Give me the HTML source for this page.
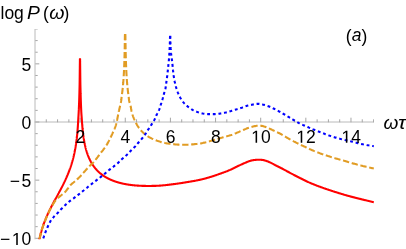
<!DOCTYPE html>
<html><head><meta charset="utf-8"><style>
html,body{margin:0;padding:0;background:#fff;}
svg{display:block;will-change:transform;opacity:0.999;}
text{font-family:"Liberation Sans",sans-serif;font-size:17.5px;fill:#000;}
</style></head><body>
<svg width="406" height="249" viewBox="0 0 406 249">
<rect width="406" height="249" fill="#fff"/>
<clipPath id="c"><rect x="34" y="28.96" width="339.95" height="210.24"/></clipPath>
<g stroke="#bababa" stroke-width="1" fill="none" clip-path="url(#c)">
<line x1="34.5" y1="122.0" x2="374.05" y2="122.0"/>
<line x1="35.0" y1="28.46" x2="35.0" y2="240.30"/>
</g>
<g stroke="#a6a6a6" stroke-width="1" fill="none" clip-path="url(#c)">
<line x1="46.28" y1="122.3" x2="46.28" y2="119.30"/>
<line x1="57.57" y1="122.3" x2="57.57" y2="119.30"/>
<line x1="68.86" y1="122.3" x2="68.86" y2="119.30"/>
<line x1="80.14" y1="122.3" x2="80.14" y2="117.70"/>
<line x1="91.42" y1="122.3" x2="91.42" y2="119.30"/>
<line x1="102.71" y1="122.3" x2="102.71" y2="119.30"/>
<line x1="114.0" y1="122.3" x2="114.0" y2="119.30"/>
<line x1="125.28" y1="122.3" x2="125.28" y2="117.70"/>
<line x1="136.56" y1="122.3" x2="136.56" y2="119.30"/>
<line x1="147.85" y1="122.3" x2="147.85" y2="119.30"/>
<line x1="159.13" y1="122.3" x2="159.13" y2="119.30"/>
<line x1="170.42" y1="122.3" x2="170.42" y2="117.70"/>
<line x1="181.71" y1="122.3" x2="181.71" y2="119.30"/>
<line x1="192.99" y1="122.3" x2="192.99" y2="119.30"/>
<line x1="204.28" y1="122.3" x2="204.28" y2="119.30"/>
<line x1="215.56" y1="122.3" x2="215.56" y2="117.70"/>
<line x1="226.84" y1="122.3" x2="226.84" y2="119.30"/>
<line x1="238.13" y1="122.3" x2="238.13" y2="119.30"/>
<line x1="249.41" y1="122.3" x2="249.41" y2="119.30"/>
<line x1="260.7" y1="122.3" x2="260.7" y2="117.70"/>
<line x1="271.99" y1="122.3" x2="271.99" y2="119.30"/>
<line x1="283.27" y1="122.3" x2="283.27" y2="119.30"/>
<line x1="294.56" y1="122.3" x2="294.56" y2="119.30"/>
<line x1="305.84" y1="122.3" x2="305.84" y2="117.70"/>
<line x1="317.12" y1="122.3" x2="317.12" y2="119.30"/>
<line x1="328.41" y1="122.3" x2="328.41" y2="119.30"/>
<line x1="339.69" y1="122.3" x2="339.69" y2="119.30"/>
<line x1="350.98" y1="122.3" x2="350.98" y2="117.70"/>
<line x1="362.26" y1="122.3" x2="362.26" y2="119.30"/>
<line x1="373.55" y1="122.3" x2="373.55" y2="119.30"/>
<line x1="35.3" y1="238.30" x2="39.30" y2="238.30"/>
<line x1="35.3" y1="226.67" x2="37.70" y2="226.67"/>
<line x1="35.3" y1="215.04" x2="37.70" y2="215.04"/>
<line x1="35.3" y1="203.41" x2="37.70" y2="203.41"/>
<line x1="35.3" y1="191.78" x2="37.70" y2="191.78"/>
<line x1="35.3" y1="180.15" x2="39.30" y2="180.15"/>
<line x1="35.3" y1="168.52" x2="37.70" y2="168.52"/>
<line x1="35.3" y1="156.89" x2="37.70" y2="156.89"/>
<line x1="35.3" y1="145.26" x2="37.70" y2="145.26"/>
<line x1="35.3" y1="133.63" x2="37.70" y2="133.63"/>
<line x1="35.3" y1="122.00" x2="39.30" y2="122.00"/>
<line x1="35.3" y1="110.37" x2="37.70" y2="110.37"/>
<line x1="35.3" y1="98.74" x2="37.70" y2="98.74"/>
<line x1="35.3" y1="87.11" x2="37.70" y2="87.11"/>
<line x1="35.3" y1="75.48" x2="37.70" y2="75.48"/>
<line x1="35.3" y1="63.85" x2="39.30" y2="63.85"/>
<line x1="35.3" y1="52.22" x2="37.70" y2="52.22"/>
<line x1="35.3" y1="40.59" x2="37.70" y2="40.59"/>
<line x1="35.3" y1="28.96" x2="37.70" y2="28.96"/>
</g>
<clipPath id="k"><rect x="30" y="20" width="343.9" height="219.15"/></clipPath>
<g fill="none" stroke-width="2.1" stroke-linejoin="bevel" clip-path="url(#k)">
<path d="M38.82,242.00 L39.02,241.09 L39.22,240.18 L39.43,239.27 L39.63,238.34 L39.67,238.14 L39.72,237.93 L39.76,237.72 L39.81,237.51 L39.86,237.30 L39.90,237.09 L39.95,236.88 L40.00,236.67 L40.05,236.46 L40.09,236.25 L40.14,236.05 L40.19,235.85 L40.24,235.64 L40.29,235.43 L40.34,235.22 L40.39,235.01 L40.44,234.81 L40.49,234.60 L40.54,234.40 L40.59,234.20 L40.64,233.99 L40.69,233.79 L40.74,233.58 L40.80,233.38 L40.85,233.18 L40.90,232.98 L40.95,232.78 L41.01,232.58 L41.06,232.38 L41.12,232.17 L41.17,231.97 L41.23,231.77 L41.28,231.57 L41.34,231.37 L41.39,231.18 L41.45,230.98 L41.50,230.78 L41.56,230.58 L41.62,230.38 L41.68,230.18 L41.73,229.98 L41.79,229.79 L41.85,229.60 L41.91,229.40 L41.97,229.20 L42.03,229.01 L42.09,228.81 L42.15,228.61 L42.21,228.42 L42.27,228.23 L42.33,228.03 L42.39,227.84 L42.45,227.65 L42.51,227.45 L42.57,227.26 L42.64,227.06 L42.70,226.87 L42.76,226.68 L42.82,226.49 L42.89,226.30 L42.95,226.11 L43.01,225.91 L43.08,225.72 L43.14,225.53 L43.21,225.34 L43.27,225.15 L43.34,224.96 L43.40,224.78 L43.47,224.58 L43.54,224.39 L43.61,224.20 L43.67,224.01 L43.74,223.82 L43.81,223.64 L43.88,223.45 L43.94,223.26 L44.01,223.08 L44.08,222.90 L44.15,222.72 L44.21,222.53 L44.28,222.35 L44.35,222.16 L44.42,221.98 L44.49,221.79 L44.56,221.61 L44.63,221.43 L44.70,221.25 L44.77,221.07 L44.85,220.88 L44.92,220.70 L44.99,220.51 L45.06,220.33 L45.14,220.15 L45.21,219.97 L45.28,219.78 L45.35,219.61 L45.43,219.42 L45.50,219.24 L45.58,219.05 L45.65,218.87 L45.73,218.69 L45.80,218.51 L45.88,218.33 L45.95,218.15 L46.03,217.97 L46.10,217.80 L46.18,217.62 L46.25,217.44 L46.33,217.26 L46.41,217.08 L46.48,216.90 L46.56,216.72 L46.64,216.55 L46.72,216.37 L46.79,216.19 L46.87,216.02 L46.95,215.84 L47.03,215.67 L47.10,215.49 L47.18,215.32 L47.26,215.14 L47.34,214.96 L47.42,214.79 L47.50,214.61 L47.58,214.44 L47.66,214.26 L47.74,214.09 L47.82,213.91 L47.90,213.74 L47.98,213.57 L48.06,213.40 L48.14,213.23 L48.22,213.05 L48.31,212.87 L48.39,212.70 L48.47,212.52 L48.55,212.35 L48.63,212.18 L48.72,212.00 L48.80,211.83 L48.88,211.66 L48.96,211.49 L49.05,211.32 L49.13,211.15 L49.21,210.98 L49.29,210.81 L49.38,210.64 L49.46,210.47 L49.54,210.30 L49.63,210.13 L49.71,209.96 L49.80,209.78 L49.88,209.61 L49.97,209.44 L50.05,209.27 L50.14,209.10 L50.22,208.93 L50.31,208.76 L50.39,208.60 L50.48,208.43 L50.56,208.26 L50.65,208.09 L50.73,207.93 L50.82,207.76 L50.90,207.59 L50.99,207.43 L51.07,207.26 L51.16,207.10 L51.24,206.93 L51.33,206.76 L51.42,206.59 L51.51,206.42 L51.59,206.25 L51.68,206.08 L51.77,205.91 L51.86,205.75 L51.94,205.58 L52.03,205.41 L52.12,205.24 L52.21,205.08 L52.29,204.91 L52.38,204.75 L52.47,204.58 L52.56,204.41 L52.64,204.25 L52.73,204.08 L52.82,203.92 L52.91,203.75 L52.99,203.59 L53.08,203.43 L53.17,203.26 L53.26,203.10 L53.34,202.93 L53.43,202.77 L53.52,202.61 L53.61,202.44 L53.69,202.28 L53.78,202.12 L53.87,201.96 L53.95,201.79 L54.04,201.63 L54.13,201.46 L54.22,201.29 L54.31,201.13 L54.40,200.96 L54.49,200.79 L54.58,200.63 L54.67,200.46 L54.76,200.29 L54.85,200.13 L54.94,199.96 L55.03,199.80 L55.12,199.63 L55.21,199.47 L55.30,199.30 L55.39,199.14 L55.48,198.97 L55.57,198.80 L55.66,198.64 L55.75,198.47 L55.84,198.31 L55.93,198.14 L56.02,197.98 L56.11,197.81 L56.20,197.65 L56.29,197.48 L56.38,197.32 L56.47,197.15 L56.56,196.99 L56.65,196.82 L56.74,196.66 L56.83,196.49 L56.92,196.33 L57.01,196.16 L57.10,196.00 L57.19,195.83 L57.28,195.67 L57.37,195.50 L57.46,195.34 L57.55,195.17 L57.64,195.01 L57.73,194.84 L57.82,194.68 L57.91,194.51 L58.00,194.34 L58.09,194.18 L58.18,194.01 L58.27,193.85 L58.36,193.68 L58.45,193.51 L58.54,193.35 L58.63,193.18 L58.72,193.02 L58.81,192.85 L58.90,192.68 L58.99,192.51 L59.08,192.35 L59.17,192.19 L59.25,192.03 L59.34,191.86 L59.43,191.70 L59.51,191.54 L59.60,191.37 L59.69,191.21 L59.78,191.05 L59.86,190.88 L59.95,190.72 L60.04,190.55 L60.13,190.39 L60.21,190.23 L60.30,190.06 L60.39,189.89 L60.48,189.73 L60.56,189.56 L60.65,189.40 L60.74,189.23 L60.83,189.07 L60.91,188.90 L61.00,188.73 L61.09,188.56 L61.18,188.40 L61.26,188.23 L61.35,188.06 L61.44,187.89 L61.53,187.72 L61.61,187.56 L61.70,187.39 L61.79,187.22 L61.87,187.05 L61.96,186.89 L62.04,186.72 L62.13,186.56 L62.21,186.39 L62.30,186.22 L62.38,186.06 L62.47,185.89 L62.55,185.72 L62.64,185.55 L62.72,185.39 L62.81,185.22 L62.89,185.05 L62.98,184.88 L63.06,184.71 L63.15,184.54 L63.23,184.37 L63.32,184.20 L63.40,184.03 L63.49,183.85 L63.57,183.69 L63.65,183.52 L63.73,183.35 L63.82,183.18 L63.90,183.01 L63.98,182.85 L64.06,182.68 L64.15,182.51 L64.23,182.34 L64.31,182.16 L64.39,181.99 L64.48,181.82 L64.56,181.65 L64.64,181.48 L64.72,181.30 L64.80,181.13 L64.89,180.95 L64.97,180.78 L65.05,180.60 L65.13,180.43 L65.21,180.26 L65.29,180.08 L65.37,179.91 L65.45,179.74 L65.53,179.56 L65.61,179.39 L65.69,179.22 L65.77,179.04 L65.85,178.87 L65.93,178.69 L66.01,178.51 L66.09,178.33 L66.17,178.16 L66.25,177.99 L66.33,177.81 L66.40,177.64 L66.48,177.47 L66.56,177.29 L66.64,177.11 L66.71,176.94 L66.79,176.76 L66.87,176.58 L66.95,176.40 L67.02,176.22 L67.10,176.05 L67.17,175.87 L67.25,175.70 L67.32,175.52 L67.40,175.34 L67.47,175.16 L67.55,174.99 L67.62,174.81 L67.70,174.63 L67.77,174.45 L67.85,174.26 L67.92,174.08 L67.99,173.90 L68.07,173.73 L68.14,173.55 L68.21,173.37 L68.28,173.19 L68.36,173.01 L68.43,172.83 L68.50,172.64 L68.57,172.46 L68.65,172.28 L68.72,172.09 L68.79,171.91 L68.86,171.72 L68.93,171.54 L69.00,171.36 L69.07,171.18 L69.14,171.00 L69.21,170.81 L69.28,170.63 L69.35,170.44 L69.42,170.25 L69.49,170.06 L69.56,169.87 L69.63,169.68 L69.70,169.50 L69.77,169.31 L69.83,169.13 L69.90,168.94 L69.97,168.75 L70.04,168.56 L70.10,168.37 L70.17,168.18 L70.23,168.00 L70.30,167.81 L70.36,167.62 L70.43,167.44 L70.49,167.25 L70.56,167.06 L70.62,166.87 L70.69,166.67 L70.75,166.48 L70.82,166.29 L70.88,166.09 L70.95,165.90 L71.01,165.70 L71.07,165.51 L71.14,165.32 L71.20,165.13 L71.26,164.93 L71.32,164.74 L71.39,164.54 L71.45,164.34 L71.51,164.15 L71.57,163.96 L71.63,163.76 L71.69,163.57 L71.75,163.37 L71.81,163.18 L71.87,162.98 L71.93,162.78 L71.99,162.59 L72.04,162.39 L72.10,162.20 L72.16,162.00 L72.22,161.80 L72.27,161.60 L72.33,161.40 L72.39,161.20 L72.44,161.01 L72.50,160.81 L72.55,160.62 L72.61,160.42 L72.66,160.22 L72.72,160.02 L72.77,159.82 L72.83,159.61 L72.88,159.41 L72.94,159.20 L72.99,158.99 L73.05,158.79 L73.10,158.58 L73.15,158.38 L73.20,158.18 L73.26,157.97 L73.31,157.77 L73.36,157.56 L73.41,157.35 L73.47,157.14 L73.52,156.93 L73.57,156.73 L73.62,156.52 L73.67,156.32 L73.72,156.11 L73.77,155.90 L73.82,155.68 L73.87,155.47 L73.91,155.27 L73.96,155.06 L74.01,154.85 L74.06,154.64 L74.10,154.43 L74.15,154.22 L74.20,154.00 L74.25,153.79 L74.29,153.58 L74.34,153.37 L74.38,153.16 L74.43,152.95 L74.47,152.74 L74.52,152.52 L74.56,152.31 L74.61,152.09 L74.65,151.88 L74.69,151.67 L74.73,151.46 L74.78,151.25 L74.82,151.03 L74.86,150.82 L74.90,150.60 L74.95,150.38 L74.99,150.17 L75.03,149.96 L75.07,149.75 L75.11,149.53 L75.15,149.32 L75.19,149.10 L75.23,148.88 L75.27,148.66 L75.31,148.43 L75.35,148.21 L75.39,147.98 L75.43,147.75 L75.46,147.53 L75.50,147.31 L75.54,147.09 L75.58,146.87 L75.61,146.64 L75.65,146.41 L75.69,146.18 L75.72,145.95 L75.76,145.73 L75.79,145.51 L75.83,145.29 L75.86,145.06 L75.90,144.84 L75.93,144.61 L75.97,144.38 L76.00,144.14 L76.04,143.93 L76.07,143.70 L76.10,143.48 L76.13,143.26 L76.17,143.03 L76.20,142.80 L76.23,142.57 L76.26,142.34 L76.29,142.12 L76.32,141.90 L76.35,141.68 L76.38,141.45 L76.41,141.23 L76.44,141.00 L76.47,140.77 L76.50,140.53 L76.53,140.30 L76.56,140.06 L76.59,139.82 L76.62,139.58 L76.65,139.35 L76.68,139.13 L76.71,138.90 L76.73,138.66 L76.76,138.43 L76.79,138.19 L76.82,137.96 L76.84,137.71 L76.87,137.47 L76.90,137.22 L76.93,136.97 L76.95,136.72 L76.98,136.49 L77.00,136.26 L77.03,136.02 L77.05,135.78 L77.08,135.54 L77.10,135.30 L77.13,135.05 L77.15,134.80 L77.18,134.57 L77.20,134.34 L77.22,134.11 L77.24,133.88 L77.27,133.64 L77.29,133.40 L77.31,133.16 L77.33,132.91 L77.36,132.67 L77.38,132.42 L77.40,132.16 L77.42,131.91 L77.44,131.68 L77.46,131.45 L77.48,131.21 L77.50,130.97 L77.52,130.73 L77.54,130.49 L77.56,130.25 L77.58,130.00 L77.60,129.75 L77.62,129.49 L77.64,129.24 L77.66,128.98 L77.68,128.75 L77.70,128.51 L77.72,128.28 L77.73,128.04 L77.75,127.80 L77.77,127.56 L77.79,127.31 L77.80,127.06 L77.82,126.81 L77.84,126.56 L77.86,126.30 L77.87,126.04 L77.89,125.77 L77.91,125.51 L77.93,125.23 L77.94,124.96 L77.96,124.72 L77.97,124.48 L77.99,124.24 L78.00,123.99 L78.02,123.74 L78.03,123.49 L78.05,123.24 L78.06,122.98 L78.08,122.72 L78.09,122.45 L78.11,122.19 L78.12,121.91 L78.14,121.64 L78.15,121.35 L78.17,121.07 L78.18,120.79 L78.24,119.79 L78.30,118.82 L78.36,117.89 L78.41,116.98 L78.47,116.06 L78.53,115.12 L78.59,114.14 L78.64,113.10 L78.70,112.00 L78.74,111.16 L78.78,110.30 L78.83,109.42 L78.87,108.51 L78.91,107.57 L78.95,106.60 L78.99,105.60 L79.03,104.56 L79.08,103.48 L79.12,102.37 L79.16,101.21 L79.20,100.00 L79.23,99.20 L79.25,98.38 L79.28,97.54 L79.31,96.67 L79.33,95.78 L79.36,94.86 L79.39,93.90 L79.41,92.92 L79.44,91.90 L79.47,90.85 L79.49,89.76 L79.52,88.63 L79.55,87.46 L79.57,86.25 L79.60,85.00 L79.62,84.21 L79.63,83.30 L79.65,82.30 L79.66,81.21 L79.68,80.05 L79.69,78.82 L79.71,77.54 L79.72,76.22 L79.74,74.87 L79.75,73.50 L79.77,72.13 L79.78,70.76 L79.80,69.41 L79.82,68.09 L79.83,66.80 L79.85,65.57 L79.86,64.40 L79.88,63.31 L79.89,62.30 L79.91,61.39 L79.92,60.58 L79.94,59.90 L79.95,59.35 L79.97,58.94 L79.98,58.69 L80.00,58.60 L80.02,58.69 L80.03,58.94 L80.05,59.35 L80.06,59.90 L80.08,60.58 L80.09,61.39 L80.11,62.30 L80.12,63.31 L80.14,64.40 L80.15,65.57 L80.17,66.80 L80.18,68.09 L80.20,69.41 L80.22,70.76 L80.23,72.13 L80.25,73.50 L80.26,74.87 L80.28,76.22 L80.29,77.54 L80.31,78.82 L80.32,80.05 L80.34,81.21 L80.35,82.30 L80.37,83.30 L80.38,84.21 L80.40,85.00 L80.43,86.25 L80.45,87.46 L80.48,88.63 L80.51,89.76 L80.53,90.85 L80.56,91.90 L80.59,92.92 L80.61,93.90 L80.64,94.86 L80.67,95.78 L80.69,96.67 L80.72,97.54 L80.75,98.38 L80.77,99.20 L80.80,100.00 L80.84,101.21 L80.88,102.39 L80.92,103.53 L80.97,104.63 L81.01,105.69 L81.05,106.72 L81.09,107.70 L81.13,108.65 L81.17,109.55 L81.22,110.41 L81.26,111.23 L81.30,112.00 L81.37,113.23 L81.44,114.33 L81.51,115.36 L81.59,116.32 L81.66,117.26 L81.73,118.20 L81.80,119.18 L81.87,120.21 L81.89,120.48 L81.91,120.75 L81.93,121.02 L81.94,121.28 L81.96,121.54 L81.98,121.80 L81.99,122.05 L82.01,122.30 L82.03,122.55 L82.05,122.79 L82.06,123.03 L82.08,123.27 L82.10,123.56 L82.12,123.85 L82.15,124.14 L82.17,124.42 L82.19,124.70 L82.21,124.97 L82.23,125.24 L82.26,125.51 L82.28,125.77 L82.30,126.03 L82.32,126.29 L82.34,126.54 L82.36,126.79 L82.39,127.04 L82.41,127.29 L82.43,127.53 L82.45,127.77 L82.47,128.00 L82.49,128.24 L82.52,128.47 L82.54,128.74 L82.57,129.01 L82.59,129.27 L82.62,129.54 L82.65,129.80 L82.67,130.05 L82.70,130.30 L82.72,130.55 L82.75,130.80 L82.78,131.04 L82.80,131.28 L82.83,131.52 L82.85,131.76 L82.88,131.99 L82.91,132.22 L82.93,132.45 L82.96,132.71 L82.99,132.97 L83.02,133.22 L83.05,133.47 L83.08,133.72 L83.11,133.97 L83.14,134.21 L83.18,134.45 L83.21,134.69 L83.24,134.92 L83.27,135.15 L83.30,135.38 L83.33,135.61 L83.36,135.83 L83.39,136.05 L83.42,136.27 L83.45,136.52 L83.49,136.76 L83.52,137.00 L83.56,137.24 L83.59,137.48 L83.63,137.71 L83.66,137.94 L83.70,138.17 L83.73,138.39 L83.77,138.61 L83.80,138.83 L83.84,139.05 L83.87,139.29 L83.91,139.53 L83.95,139.77 L83.99,140.00 L84.03,140.23 L84.07,140.46 L84.11,140.68 L84.15,140.90 L84.19,141.12 L84.23,141.34 L84.26,141.56 L84.30,141.77 L84.35,142.00 L84.39,142.24 L84.43,142.46 L84.48,142.69 L84.52,142.91 L84.56,143.13 L84.61,143.35 L84.65,143.57 L84.69,143.78 L84.74,143.99 L84.78,144.20 L84.82,144.41 L84.87,144.63 L84.92,144.85 L84.97,145.07 L85.02,145.29 L85.06,145.51 L85.11,145.72 L85.16,145.93 L85.21,146.14 L85.25,146.34 L85.30,146.54 L85.35,146.75 L85.40,146.94 L85.45,147.16 L85.50,147.37 L85.55,147.58 L85.61,147.79 L85.66,148.00 L85.71,148.20 L85.76,148.40 L85.81,148.60 L85.87,148.81 L85.93,149.02 L85.98,149.23 L86.04,149.44 L86.10,149.64 L86.15,149.85 L86.21,150.05 L86.27,150.24 L86.33,150.45 L86.39,150.66 L86.45,150.87 L86.51,151.07 L86.57,151.27 L86.63,151.47 L86.69,151.67 L86.75,151.87 L86.81,152.06 L86.87,152.25 L86.93,152.44 L86.99,152.63 L87.06,152.83 L87.13,153.02 L87.19,153.22 L87.26,153.41 L87.32,153.60 L87.39,153.79 L87.45,153.98 L87.52,154.16 L87.59,154.36 L87.65,154.55 L87.72,154.74 L87.79,154.93 L87.86,155.12 L87.93,155.30 L88.00,155.48 L88.07,155.67 L88.15,155.86 L88.22,156.04 L88.29,156.23 L88.37,156.42 L88.44,156.60 L88.51,156.78 L88.59,156.96 L88.66,157.14 L88.74,157.32 L88.82,157.51 L88.90,157.69 L88.97,157.87 L89.05,158.05 L89.13,158.23 L89.21,158.40 L89.29,158.57 L89.37,158.75 L89.45,158.93 L89.53,159.11 L89.62,159.29 L89.70,159.46 L89.78,159.63 L89.86,159.80 L89.95,159.97 L90.03,160.15 L90.12,160.32 L90.21,160.49 L90.29,160.66 L90.38,160.83 L90.47,161.00 L90.55,161.17 L90.64,161.33 L90.73,161.50 L90.82,161.67 L90.91,161.84 L91.01,162.00 L91.10,162.16 L91.19,162.33 L91.28,162.49 L91.37,162.65 L91.47,162.81 L91.56,162.98 L91.66,163.14 L91.75,163.30 L91.85,163.46 L91.94,163.61 L92.04,163.77 L92.13,163.92 L92.23,164.08 L92.33,164.24 L92.43,164.40 L92.53,164.55 L92.63,164.71 L92.73,164.86 L92.83,165.01 L92.93,165.16 L93.04,165.31 L93.14,165.46 L93.25,165.62 L93.35,165.77 L93.45,165.91 L93.56,166.06 L93.66,166.21 L93.77,166.35 L93.87,166.50 L93.98,166.65 L94.09,166.79 L94.20,166.94 L94.31,167.09 L94.43,167.23 L94.54,167.38 L94.65,167.52 L94.76,167.67 L94.88,167.81 L94.99,167.95 L95.10,168.09 L95.22,168.23 L95.34,168.37 L95.45,168.51 L95.57,168.65 L95.69,168.79 L95.81,168.93 L95.92,169.06 L96.04,169.20 L96.16,169.34 L96.28,169.47 L96.40,169.61 L96.53,169.74 L96.65,169.87 L96.77,170.00 L96.89,170.13 L97.01,170.26 L97.14,170.40 L97.26,170.53 L97.39,170.66 L97.52,170.78 L97.64,170.91 L97.77,171.04 L97.89,171.16 L98.02,171.29 L98.15,171.41 L98.28,171.54 L98.41,171.66 L98.54,171.79 L98.67,171.91 L98.80,172.03 L98.93,172.15 L99.06,172.27 L99.20,172.39 L99.33,172.51 L99.46,172.63 L99.60,172.75 L99.73,172.87 L99.87,172.98 L100.00,173.10 L100.14,173.21 L100.28,173.33 L100.42,173.44 L100.55,173.56 L100.69,173.67 L100.84,173.79 L100.98,173.90 L101.12,174.02 L101.27,174.13 L101.41,174.24 L101.55,174.35 L101.70,174.46 L101.84,174.57 L101.99,174.68 L102.13,174.79 L102.28,174.90 L102.43,175.01 L102.58,175.11 L102.72,175.22 L102.87,175.32 L103.02,175.43 L103.17,175.53 L103.32,175.64 L103.48,175.74 L103.63,175.84 L103.78,175.94 L103.93,176.04 L104.08,176.14 L104.23,176.24 L104.39,176.34 L104.55,176.44 L104.70,176.54 L104.86,176.64 L105.02,176.74 L105.17,176.83 L105.33,176.93 L105.48,177.02 L105.65,177.12 L105.81,177.21 L105.97,177.31 L106.13,177.40 L106.29,177.49 L106.45,177.58 L106.61,177.68 L106.77,177.76 L106.93,177.86 L107.10,177.95 L107.26,178.04 L107.43,178.12 L107.59,178.21 L107.76,178.30 L107.92,178.39 L108.09,178.47 L108.26,178.56 L108.43,178.64 L108.60,178.73 L108.77,178.81 L108.94,178.90 L109.10,178.98 L109.27,179.06 L109.44,179.14 L109.62,179.22 L109.79,179.30 L109.96,179.38 L110.14,179.46 L110.31,179.54 L110.49,179.62 L110.66,179.70 L110.83,179.78 L111.01,179.85 L111.19,179.93 L111.37,180.01 L111.54,180.08 L111.72,180.16 L111.90,180.23 L112.08,180.30 L112.26,180.38 L112.44,180.45 L112.62,180.52 L112.80,180.60 L112.99,180.67 L113.17,180.74 L113.35,180.81 L113.53,180.88 L113.71,180.94 L113.90,181.01 L114.09,181.08 L114.27,181.15 L114.46,181.22 L114.65,181.28 L114.83,181.35 L115.02,181.41 L115.21,181.48 L115.40,181.54 L115.59,181.61 L115.78,181.67 L115.97,181.73 L116.16,181.80 L116.35,181.86 L116.54,181.92 L116.74,181.98 L116.93,182.04 L117.13,182.10 L117.32,182.16 L117.52,182.22 L117.71,182.28 L117.91,182.34 L118.10,182.39 L118.30,182.45 L118.49,182.51 L118.69,182.56 L118.88,182.62 L119.08,182.67 L119.28,182.72 L119.48,182.78 L119.68,182.83 L119.88,182.88 L120.08,182.94 L120.28,182.99 L120.48,183.04 L120.68,183.09 L120.88,183.14 L121.08,183.19 L121.29,183.24 L121.49,183.29 L121.70,183.33 L121.90,183.38 L122.10,183.43 L122.31,183.48 L122.52,183.52 L122.72,183.57 L122.93,183.62 L123.14,183.66 L123.35,183.70 L123.56,183.75 L123.77,183.79 L123.98,183.83 L124.19,183.88 L124.40,183.92 L124.61,183.96 L124.83,184.00 L125.04,184.05 L125.25,184.09 L125.46,184.13 L125.68,184.16 L125.89,184.20 L126.10,184.24 L126.31,184.28 L126.53,184.32 L126.74,184.35 L126.96,184.39 L127.18,184.43 L127.40,184.46 L127.61,184.50 L127.83,184.53 L128.05,184.57 L128.26,184.60 L128.48,184.63 L128.71,184.67 L128.93,184.70 L129.15,184.73 L129.37,184.76 L129.59,184.79 L129.81,184.83 L130.03,184.86 L130.26,184.88 L130.48,184.91 L130.70,184.94 L130.92,184.97 L131.15,185.00 L131.37,185.03 L131.60,185.05 L131.82,185.08 L132.05,185.11 L132.27,185.13 L132.50,185.16 L132.73,185.18 L132.96,185.21 L133.19,185.23 L133.42,185.26 L133.65,185.28 L133.88,185.30 L134.11,185.33 L134.34,185.35 L134.57,185.37 L134.80,185.39 L135.03,185.41 L135.26,185.43 L135.49,185.45 L135.72,185.47 L135.95,185.49 L136.19,185.51 L136.42,185.53 L136.66,185.54 L136.89,185.56 L137.13,185.58 L137.36,185.60 L137.60,185.61 L137.84,185.63 L138.08,185.64 L138.32,185.66 L138.55,185.67 L138.79,185.69 L139.03,185.70 L139.27,185.72 L139.51,185.73 L139.75,185.74 L139.99,185.75 L140.23,185.76 L140.47,185.78 L140.71,185.79 L140.95,185.80 L141.20,185.81 L141.44,185.82 L141.68,185.83 L141.93,185.84 L142.17,185.84 L142.41,185.85 L142.66,185.86 L142.90,185.87 L143.14,185.87 L143.39,185.88 L143.64,185.89 L143.88,185.89 L144.13,185.90 L144.38,185.90 L144.63,185.91 L144.87,185.91 L145.12,185.92 L145.37,185.92 L145.62,185.92 L145.86,185.93 L146.11,185.93 L146.36,185.93 L146.61,185.93 L146.87,185.93 L147.12,185.94 L147.37,185.94 L147.62,185.94 L147.87,185.94 L148.12,185.94 L148.38,185.93 L148.63,185.93 L148.88,185.93 L149.13,185.93 L150.10,185.93 L151.07,185.93 L152.03,185.92 L153.00,185.92 L153.50,185.92 L154.00,185.90 L154.50,185.89 L155.00,185.87 L155.50,185.85 L156.00,185.84 L156.50,185.81 L157.00,185.79 L157.50,185.77 L158.00,185.74 L158.50,185.71 L159.00,185.69 L159.50,185.65 L160.00,185.62 L160.50,185.58 L161.00,185.55 L161.50,185.51 L162.00,185.47 L162.50,185.42 L163.00,185.38 L163.50,185.33 L164.00,185.28 L164.50,185.23 L165.00,185.18 L165.50,185.13 L166.00,185.07 L166.50,185.02 L167.00,184.96 L167.50,184.90 L168.00,184.84 L168.50,184.78 L169.00,184.72 L169.50,184.66 L170.00,184.60 L170.50,184.54 L171.00,184.48 L171.50,184.41 L172.00,184.35 L172.50,184.28 L173.00,184.22 L173.50,184.15 L174.00,184.09 L174.50,184.02 L175.00,183.95 L175.50,183.89 L176.00,183.82 L176.50,183.75 L177.00,183.68 L177.50,183.61 L178.00,183.54 L178.50,183.47 L179.00,183.40 L179.50,183.32 L180.00,183.25 L180.50,183.18 L181.00,183.10 L181.50,183.03 L182.00,182.95 L182.50,182.87 L183.00,182.79 L183.50,182.72 L184.00,182.64 L184.50,182.56 L185.00,182.48 L185.50,182.40 L186.00,182.32 L186.50,182.23 L187.00,182.15 L187.50,182.07 L188.00,181.99 L188.50,181.90 L189.00,181.82 L189.50,181.73 L190.00,181.65 L190.50,181.56 L191.00,181.48 L191.50,181.39 L192.00,181.31 L192.50,181.22 L193.00,181.13 L193.50,181.04 L194.00,180.95 L194.50,180.86 L195.00,180.77 L195.50,180.67 L196.00,180.58 L196.50,180.48 L197.00,180.38 L197.50,180.28 L198.00,180.18 L198.50,180.07 L199.00,179.97 L199.50,179.86 L200.00,179.75 L200.50,179.64 L201.00,179.52 L201.50,179.41 L202.00,179.29 L202.50,179.17 L203.00,179.04 L203.50,178.92 L204.00,178.79 L204.50,178.66 L205.00,178.53 L205.50,178.40 L206.00,178.26 L206.50,178.12 L207.00,177.98 L207.50,177.84 L208.00,177.70 L208.50,177.55 L209.00,177.40 L209.50,177.25 L210.00,177.10 L210.50,176.95 L211.00,176.79 L211.50,176.63 L212.00,176.47 L212.50,176.31 L213.00,176.15 L213.50,175.98 L214.00,175.82 L214.50,175.65 L215.00,175.48 L215.50,175.31 L216.00,175.14 L216.50,174.97 L217.00,174.80 L217.50,174.62 L218.00,174.45 L218.50,174.28 L219.00,174.10 L219.50,173.93 L220.00,173.75 L220.50,173.57 L221.00,173.40 L221.50,173.22 L222.00,173.04 L222.50,172.86 L223.00,172.68 L223.50,172.50 L224.00,172.32 L224.50,172.13 L225.00,171.94 L225.50,171.75 L226.00,171.56 L226.50,171.36 L227.00,171.17 L227.50,170.96 L228.00,170.76 L228.50,170.55 L229.00,170.34 L229.50,170.12 L230.00,169.90 L230.50,169.67 L231.00,169.45 L231.50,169.21 L232.00,168.98 L232.50,168.74 L233.00,168.50 L233.50,168.25 L234.00,168.01 L234.50,167.76 L235.00,167.52 L235.50,167.27 L236.00,167.02 L236.50,166.78 L237.00,166.53 L237.50,166.29 L238.00,166.04 L238.50,165.80 L239.00,165.57 L239.50,165.33 L240.00,165.10 L240.50,164.87 L241.00,164.65 L241.50,164.43 L242.00,164.21 L242.50,163.99 L243.00,163.77 L243.50,163.55 L244.00,163.33 L244.50,163.12 L245.00,162.90 L245.50,162.68 L246.00,162.46 L246.50,162.24 L247.00,162.03 L247.50,161.82 L248.00,161.61 L248.50,161.41 L249.00,161.23 L249.50,161.06 L250.00,160.90 L250.50,160.76 L251.00,160.62 L251.50,160.51 L252.00,160.40 L252.50,160.31 L253.00,160.22 L253.50,160.15 L254.00,160.08 L254.50,160.02 L255.00,159.96 L255.50,159.91 L256.00,159.86 L256.50,159.82 L257.00,159.79 L257.50,159.76 L258.00,159.74 L258.50,159.72 L259.00,159.72 L259.50,159.72 L260.00,159.74 L260.50,159.77 L261.00,159.80 L261.50,159.84 L262.00,159.90 L262.50,159.97 L263.00,160.05 L263.50,160.14 L264.00,160.25 L264.50,160.37 L265.00,160.50 L265.50,160.64 L266.00,160.80 L266.50,160.96 L267.00,161.14 L267.50,161.33 L268.00,161.53 L268.50,161.74 L269.00,161.96 L269.50,162.18 L270.00,162.42 L270.50,162.66 L271.00,162.91 L271.50,163.16 L272.00,163.41 L272.50,163.67 L273.00,163.92 L273.50,164.18 L274.00,164.44 L274.50,164.69 L275.00,164.95 L275.50,165.20 L276.00,165.46 L276.50,165.71 L277.00,165.97 L277.50,166.22 L278.00,166.47 L278.50,166.73 L279.00,166.98 L279.50,167.24 L280.00,167.49 L280.50,167.75 L281.00,168.01 L281.50,168.26 L282.00,168.52 L282.50,168.78 L283.00,169.05 L283.50,169.31 L284.00,169.58 L284.50,169.85 L285.00,170.12 L285.50,170.39 L286.00,170.66 L286.50,170.93 L287.00,171.21 L287.50,171.48 L288.00,171.75 L288.50,172.02 L289.00,172.29 L289.50,172.56 L290.00,172.83 L290.50,173.10 L291.00,173.36 L291.50,173.63 L292.00,173.89 L292.50,174.16 L293.00,174.42 L293.50,174.69 L294.00,174.95 L294.50,175.21 L295.00,175.47 L295.50,175.73 L296.00,175.99 L296.50,176.25 L297.00,176.51 L297.50,176.77 L298.00,177.02 L298.50,177.28 L299.00,177.54 L299.50,177.79 L300.00,178.05 L300.50,178.30 L301.00,178.55 L301.50,178.80 L302.00,179.05 L302.50,179.30 L303.00,179.55 L303.50,179.80 L304.00,180.04 L304.50,180.28 L305.00,180.52 L305.50,180.76 L306.00,181.00 L306.50,181.24 L307.00,181.47 L307.50,181.70 L308.00,181.93 L308.50,182.15 L309.00,182.38 L309.50,182.60 L310.00,182.82 L310.50,183.03 L311.00,183.25 L311.50,183.46 L312.00,183.67 L312.50,183.88 L313.00,184.09 L313.50,184.29 L314.00,184.49 L314.50,184.69 L315.00,184.89 L315.50,185.09 L316.00,185.28 L316.50,185.48 L317.00,185.67 L317.50,185.86 L318.00,186.05 L318.50,186.24 L319.00,186.42 L319.50,186.61 L320.00,186.79 L320.50,186.97 L321.00,187.15 L321.50,187.33 L322.00,187.51 L322.50,187.69 L323.00,187.87 L323.50,188.04 L324.00,188.22 L324.50,188.39 L325.00,188.56 L325.50,188.73 L326.00,188.91 L326.50,189.08 L327.00,189.25 L327.50,189.41 L328.00,189.58 L328.50,189.75 L329.00,189.92 L329.50,190.09 L330.00,190.25 L330.50,190.42 L331.00,190.58 L331.50,190.75 L332.00,190.91 L332.50,191.07 L333.00,191.24 L333.50,191.40 L334.00,191.56 L334.50,191.72 L335.00,191.88 L335.50,192.04 L336.00,192.20 L336.50,192.36 L337.00,192.52 L337.50,192.68 L338.00,192.83 L338.50,192.99 L339.00,193.15 L339.50,193.30 L340.00,193.46 L340.50,193.61 L341.00,193.76 L341.50,193.91 L342.00,194.06 L342.50,194.21 L343.00,194.36 L343.50,194.51 L344.00,194.66 L344.50,194.81 L345.00,194.95 L345.50,195.10 L346.00,195.24 L346.50,195.38 L347.00,195.52 L347.50,195.66 L348.00,195.80 L348.50,195.94 L349.00,196.07 L349.50,196.21 L350.00,196.34 L350.50,196.48 L351.00,196.61 L351.50,196.74 L352.00,196.87 L352.50,197.00 L353.00,197.13 L353.50,197.26 L354.00,197.38 L354.50,197.51 L355.00,197.64 L355.50,197.76 L356.00,197.89 L356.50,198.01 L357.00,198.14 L357.50,198.26 L358.00,198.39 L358.50,198.51 L359.00,198.64 L359.50,198.76 L360.00,198.88 L360.50,199.01 L361.00,199.13 L361.50,199.25 L362.00,199.38 L362.50,199.50 L363.00,199.62 L363.50,199.74 L364.00,199.87 L364.50,199.99 L365.00,200.11 L365.50,200.23 L366.00,200.35 L366.50,200.47 L367.00,200.60 L367.50,200.72 L368.00,200.84 L368.50,200.96 L369.00,201.08 L369.50,201.20 L370.00,201.32 L370.50,201.44 L371.00,201.56 L371.50,201.68 L372.00,201.80 L372.50,201.92 L373.00,202.04 L373.23,202.09 L373.45,202.14 L373.67,202.20 L373.90,202.25" stroke="#ff0000"/>
<g stroke="#e19c24" stroke-dasharray="6.3 2.71" stroke-dashoffset="7.654999999999999">
<path d="M125.15,32.60 L125.09,32.80 L125.02,33.42 L124.96,34.48 L124.89,36.00 L124.88,36.64 L124.87,37.71 L124.86,38.93 L124.84,40.00 L124.83,41.08 L124.81,42.12 L124.80,43.12 L124.78,44.08 L124.77,45.00 L124.75,46.09 L124.73,47.13 L124.72,48.13 L124.70,49.09 L124.68,50.00 L124.66,51.11 L124.63,52.17 L124.61,53.19 L124.59,54.17 L124.56,55.11 L124.54,56.00 L124.51,57.13 L124.48,58.21 L124.45,59.25 L124.42,60.25 L124.39,61.21 L124.36,62.12 L124.33,63.00 L124.28,64.13 L124.24,65.22 L124.20,66.26 L124.16,67.26 L124.12,68.21 L124.08,69.12 L124.04,70.00 L123.98,71.13 L123.92,72.22 L123.87,73.26 L123.81,74.26 L123.76,75.21 L123.70,76.12 L123.65,77.00 L123.57,78.13 L123.49,79.22 L123.42,80.26 L123.34,81.26 L123.27,82.21 L123.19,83.12 L123.12,84.00 L123.02,85.13 L122.91,86.22 L122.81,87.25 L122.71,88.25 L122.61,89.20 L122.51,90.12 L122.40,91.00 L122.27,92.08 L122.13,93.08 L122.00,94.03 L121.86,94.98 L121.73,95.95 L121.60,97.00 L121.50,97.88 L121.40,98.83 L121.30,99.74 L121.20,100.50 L121.01,101.65 L120.82,102.65 L120.62,103.53 L120.43,104.34 L120.24,105.15 L120.05,106.00 L119.86,106.87 L119.66,107.73 L119.47,108.57 L119.28,109.40 L119.09,110.25 L118.89,111.11 L118.70,112.00 L118.53,112.82 L118.36,113.67 L118.19,114.53 L118.01,115.40 L117.84,116.28 L117.67,117.15 L117.50,118.00 L117.30,119.00 L117.10,120.02 L116.90,121.00 L116.70,121.90 L116.48,122.82 L116.26,123.70 L116.04,124.53 L115.82,125.30 L115.60,126.00 L115.31,126.85 L115.01,127.63 L114.72,128.36 L114.43,129.05 L114.14,129.71 L113.84,130.38 L113.55,131.05 L113.24,131.77 L112.92,132.48 L112.61,133.18 L112.30,133.87 L111.99,134.55 L111.67,135.23 L111.36,135.89 L111.05,136.55 L110.69,137.29 L110.34,138.03 L109.98,138.76 L109.62,139.47 L109.26,140.18 L108.91,140.87 L108.55,141.55 L108.12,142.35 L107.70,143.14 L107.27,143.89 L106.85,144.60 L106.43,145.26 L106.00,145.91 L105.58,146.54 L105.16,147.15 L104.73,147.74 L104.31,148.33 L103.89,148.90 L103.46,149.46 L103.04,150.02 L102.62,150.57 L102.19,151.12 L101.77,151.66 L101.35,152.20 L100.92,152.75 L100.50,153.30 L100.05,153.88 L99.61,154.47 L99.16,155.06 L98.71,155.65 L98.26,156.24 L97.82,156.82 L97.37,157.41 L96.92,157.99 L96.47,158.56 L96.03,159.13 L95.58,159.69 L95.13,160.24 L94.68,160.79 L94.24,161.32 L93.79,161.84 L93.34,162.36 L92.89,162.85 L92.45,163.33 L92.00,163.80 L91.40,164.38 L90.80,164.91 L90.20,165.44 L89.60,166.00 L89.10,166.51 L88.59,167.03 L88.09,167.56 L87.58,168.11 L87.08,168.67 L86.57,169.23 L86.07,169.80 L85.56,170.36 L85.06,170.93 L84.55,171.49 L84.05,172.05 L83.55,172.60 L83.05,173.16 L82.55,173.73 L82.05,174.30 L81.55,174.87 L81.05,175.43 L80.55,175.98 L80.05,176.52 L79.55,177.04 L79.05,177.55 L78.49,178.09 L77.94,178.62 L77.38,179.13 L76.83,179.63 L76.27,180.12 L75.72,180.61 L75.16,181.09 L74.61,181.57 L74.05,182.05 L73.47,182.54 L72.88,183.00 L72.30,183.45 L71.72,183.93 L71.13,184.43 L70.55,185.00 L70.11,185.48 L69.68,186.03 L69.24,186.61 L68.81,187.22 L68.37,187.83 L67.94,188.43 L67.50,189.00 L67.01,189.63 L66.52,190.26 L66.03,190.88 L65.54,191.47 L65.05,192.00 L64.47,192.57 L63.88,193.08 L63.30,193.57 L62.72,194.04 L62.13,194.51 L61.55,195.00 L60.97,195.49 L60.38,195.95 L59.80,196.40 L59.22,196.86 L58.63,197.32 L58.05,197.81 L57.47,198.32 L56.88,198.89 L56.30,199.50 L55.89,199.97 L55.48,200.49 L55.07,201.04 L54.67,201.62 L54.26,202.24 L53.85,202.88 L53.44,203.54 L53.03,204.22 L52.62,204.91 L52.22,205.62 L51.81,206.33 L51.40,207.05 L51.06,207.65 L50.73,208.27 L50.39,208.90 L50.05,209.55 L49.72,210.22 L49.38,210.90 L49.05,211.60 L48.71,212.30 L48.37,213.03 L48.04,213.76 L47.70,214.50 L47.41,215.17 L47.11,215.85 L46.82,216.56 L46.52,217.28 L46.23,218.01 L45.93,218.75 L45.64,219.50 L45.34,220.25 L45.05,221.00 L44.77,221.70 L44.50,222.39 L44.22,223.07 L43.94,223.76 L43.66,224.46 L43.39,225.16 L43.11,225.88 L42.83,226.63 L42.55,227.40 L42.28,228.21 L42.00,229.05 L41.77,229.79 L41.55,230.58 L41.32,231.42 L41.09,232.30 L40.86,233.19 L40.64,234.10 L40.41,235.00 L40.18,235.90 L39.95,236.77 L39.73,237.61 L39.50,238.40 L39.21,239.35 L38.93,240.26 L38.64,241.14 L38.35,242.00"/>
<path d="M125.15,32.60 L125.21,32.80 L125.28,33.42 L125.34,34.48 L125.41,36.00 L125.42,36.64 L125.43,37.71 L125.44,38.93 L125.46,40.00 L125.47,41.08 L125.49,42.12 L125.50,43.12 L125.52,44.08 L125.53,45.00 L125.55,46.09 L125.57,47.13 L125.58,48.13 L125.60,49.09 L125.62,50.00 L125.64,51.11 L125.67,52.17 L125.69,53.19 L125.71,54.17 L125.74,55.11 L125.76,56.00 L125.79,57.13 L125.82,58.21 L125.85,59.25 L125.88,60.25 L125.91,61.21 L125.94,62.12 L125.97,63.00 L126.02,64.13 L126.06,65.22 L126.10,66.26 L126.14,67.26 L126.18,68.21 L126.22,69.12 L126.26,70.00 L126.32,71.13 L126.38,72.22 L126.43,73.26 L126.49,74.26 L126.54,75.21 L126.60,76.12 L126.65,77.00 L126.73,78.13 L126.81,79.22 L126.88,80.26 L126.96,81.26 L127.03,82.21 L127.11,83.12 L127.18,84.00 L127.28,85.13 L127.39,86.22 L127.49,87.25 L127.59,88.25 L127.69,89.20 L127.79,90.12 L127.90,91.00 L128.03,92.08 L128.17,93.08 L128.30,94.03 L128.44,94.98 L128.57,95.95 L128.70,97.00 L128.80,97.90 L128.90,98.87 L129.00,99.79 L129.10,100.50 L129.31,101.58 L129.53,102.44 L129.74,103.16 L129.96,103.81 L130.17,104.45 L130.39,105.16 L130.60,106.00 L130.77,106.81 L130.94,107.74 L131.11,108.72 L131.29,109.71 L131.46,110.67 L131.63,111.55 L131.80,112.30 L132.06,113.25 L132.31,114.12 L132.57,114.92 L132.83,115.67 L133.09,116.37 L133.34,117.04 L133.60,117.70 L133.95,118.57 L134.30,119.40 L134.65,120.19 L135.00,120.95 L135.35,121.68 L135.70,122.37 L136.05,123.05 L136.43,123.75 L136.80,124.44 L137.18,125.11 L137.55,125.75 L137.93,126.37 L138.30,126.96 L138.68,127.52 L139.05,128.05 L139.55,128.71 L140.05,129.34 L140.55,129.94 L141.05,130.51 L141.55,131.05 L142.05,131.56 L142.55,132.05 L143.12,132.58 L143.69,133.07 L144.26,133.54 L144.84,133.98 L145.41,134.42 L145.98,134.86 L146.55,135.30 L146.91,135.59 L147.28,135.87 L147.64,136.15 L148.00,136.40 L148.71,136.85 L149.43,137.26 L150.14,137.66 L150.86,138.03 L151.57,138.38 L152.29,138.72 L153.00,139.05 L153.72,139.37 L154.44,139.68 L155.16,139.98 L155.89,140.26 L156.61,140.54 L157.33,140.80 L158.05,141.05 L158.88,141.33 L159.72,141.61 L160.55,141.87 L161.38,142.12 L162.22,142.34 L163.05,142.55 L164.05,142.77 L165.05,142.98 L166.05,143.17 L167.05,143.34 L168.05,143.50 L169.06,143.65 L170.07,143.79 L171.07,143.92 L172.08,144.04 L173.09,144.15 L174.10,144.25 L175.08,144.35 L176.07,144.44 L177.05,144.53 L178.03,144.61 L179.02,144.67 L180.00,144.70 L181.01,144.71 L182.02,144.73 L183.03,144.74 L184.03,144.74 L185.04,144.75 L186.05,144.75 L187.05,144.73 L188.05,144.69 L189.05,144.63 L190.05,144.56 L191.05,144.48 L192.05,144.40 L192.98,144.33 L193.90,144.24 L194.82,144.15 L195.75,144.06 L196.68,143.95 L197.60,143.85 L198.45,143.75 L199.30,143.65 L200.15,143.53 L201.00,143.40 L201.83,143.24 L202.67,143.06 L203.50,142.85 L204.33,142.64 L205.17,142.41 L206.00,142.20 L206.86,141.98 L207.73,141.76 L208.59,141.53 L209.46,141.31 L210.32,141.07 L211.19,140.84 L212.05,140.60 L212.91,140.36 L213.76,140.11 L214.62,139.86 L215.48,139.61 L216.34,139.36 L217.19,139.10 L218.05,138.85 L218.91,138.59 L219.76,138.34 L220.62,138.08 L221.48,137.82 L222.34,137.56 L223.19,137.30 L224.05,137.05 L224.94,136.80 L225.83,136.55 L226.72,136.31 L227.61,136.06 L228.50,135.80 L229.40,135.53 L230.30,135.25 L231.20,134.97 L232.10,134.67 L233.00,134.35 L233.72,134.08 L234.44,133.79 L235.16,133.49 L235.89,133.19 L236.61,132.87 L237.33,132.56 L238.05,132.25 L238.76,131.94 L239.48,131.62 L240.19,131.30 L240.91,130.98 L241.62,130.67 L242.34,130.35 L243.05,130.05 L243.76,129.75 L244.48,129.45 L245.19,129.15 L245.91,128.86 L246.62,128.57 L247.34,128.30 L248.05,128.05 L248.89,127.77 L249.73,127.49 L250.57,127.23 L251.42,126.98 L252.26,126.76 L253.10,126.55 L254.00,126.33 L254.90,126.12 L255.80,125.92 L256.70,125.78 L257.60,125.70 L258.20,125.68 L258.80,125.66 L259.40,125.65 L260.00,125.65 L260.84,125.70 L261.68,125.85 L262.52,126.06 L263.37,126.32 L264.21,126.59 L265.05,126.85 L265.76,127.08 L266.48,127.34 L267.19,127.62 L267.91,127.91 L268.62,128.22 L269.34,128.54 L270.05,128.85 L270.76,129.17 L271.48,129.50 L272.19,129.85 L272.91,130.20 L273.62,130.55 L274.34,130.90 L275.05,131.25 L275.77,131.59 L276.49,131.92 L277.21,132.25 L277.94,132.59 L278.66,132.93 L279.38,133.28 L280.10,133.65 L280.80,134.03 L281.50,134.42 L282.20,134.83 L282.90,135.25 L283.60,135.67 L284.30,136.09 L285.00,136.50 L285.72,136.92 L286.44,137.34 L287.16,137.76 L287.89,138.18 L288.61,138.59 L289.33,139.00 L290.05,139.40 L290.76,139.79 L291.48,140.18 L292.19,140.56 L292.91,140.94 L293.62,141.31 L294.34,141.68 L295.05,142.05 L295.76,142.42 L296.48,142.78 L297.19,143.14 L297.91,143.50 L298.62,143.86 L299.34,144.21 L300.05,144.55 L300.77,144.89 L301.49,145.22 L302.21,145.54 L302.94,145.86 L303.66,146.19 L304.38,146.51 L305.10,146.85 L305.83,147.20 L306.57,147.57 L307.30,147.94 L308.03,148.30 L308.77,148.66 L309.50,149.00 L310.21,149.32 L310.93,149.63 L311.64,149.94 L312.35,150.25 L313.06,150.55 L313.77,150.85 L314.49,151.14 L315.20,151.43 L315.91,151.71 L316.62,152.00 L317.34,152.27 L318.05,152.55 L318.82,152.85 L319.60,153.14 L320.37,153.43 L321.14,153.71 L321.91,153.99 L322.69,154.27 L323.46,154.55 L324.23,154.82 L325.00,155.08 L325.78,155.34 L326.55,155.60 L327.33,155.85 L328.10,156.10 L328.88,156.34 L329.66,156.58 L330.44,156.82 L331.21,157.05 L331.99,157.28 L332.77,157.51 L333.55,157.74 L334.32,157.97 L335.10,158.20 L335.83,158.41 L336.55,158.63 L337.27,158.84 L338.00,159.05 L338.78,159.27 L339.56,159.50 L340.33,159.72 L341.11,159.94 L341.89,160.16 L342.67,160.38 L343.44,160.60 L344.22,160.83 L345.00,161.05 L345.80,161.28 L346.60,161.52 L347.40,161.76 L348.20,162.00 L349.00,162.23 L349.80,162.47 L350.60,162.71 L351.40,162.94 L352.20,163.17 L353.00,163.40 L353.81,163.62 L354.61,163.85 L355.42,164.07 L356.22,164.29 L357.02,164.51 L357.83,164.72 L358.63,164.93 L359.44,165.14 L360.25,165.35 L361.05,165.55 L361.91,165.76 L362.76,165.97 L363.62,166.17 L364.47,166.38 L365.33,166.57 L366.18,166.77 L367.04,166.97 L367.89,167.16 L368.75,167.36 L369.60,167.55 L370.46,167.74 L371.32,167.94 L372.18,168.13 L373.04,168.31 L373.90,168.50"/>
</g>
<g stroke="#0000ff" stroke-dasharray="2.85 2.79" stroke-dashoffset="4.245">
<path d="M170.15,34.50 L170.12,34.72 L170.08,35.33 L170.05,36.25 L170.01,37.40 L169.98,38.72 L169.94,40.11 L169.91,41.52 L169.87,42.85 L169.84,44.04 L169.80,45.00 L169.75,46.16 L169.70,47.26 L169.65,48.31 L169.60,49.32 L169.55,50.28 L169.50,51.20 L169.45,52.09 L169.40,52.94 L169.35,53.76 L169.30,54.55 L169.23,55.69 L169.15,56.76 L169.07,57.77 L169.00,58.73 L168.93,59.64 L168.85,60.50 L168.74,61.67 L168.63,62.74 L168.52,63.76 L168.41,64.76 L168.30,65.80 L168.19,66.89 L168.08,67.99 L167.97,69.10 L167.86,70.17 L167.75,71.20 L167.63,72.24 L167.52,73.25 L167.40,74.23 L167.28,75.19 L167.17,76.13 L167.05,77.05 L166.93,78.02 L166.80,78.96 L166.68,79.88 L166.55,80.79 L166.43,81.69 L166.30,82.60 L166.18,83.55 L166.05,84.53 L165.93,85.51 L165.80,86.45 L165.68,87.29 L165.55,88.00 L165.34,89.00 L165.12,89.87 L164.91,90.64 L164.69,91.36 L164.48,92.05 L164.26,92.75 L164.05,93.50 L163.84,94.30 L163.62,95.10 L163.41,95.91 L163.19,96.72 L162.98,97.52 L162.76,98.29 L162.55,99.05 L162.31,99.88 L162.06,100.69 L161.82,101.48 L161.58,102.25 L161.34,103.02 L161.09,103.79 L160.85,104.55 L160.59,105.38 L160.33,106.21 L160.07,107.05 L159.82,107.85 L159.56,108.61 L159.30,109.30 L158.96,110.13 L158.61,110.89 L158.27,111.60 L157.93,112.28 L157.58,112.94 L157.24,113.61 L156.89,114.29 L156.55,115.00 L156.24,115.68 L155.93,116.39 L155.61,117.12 L155.30,117.84 L154.99,118.55 L154.68,119.24 L154.36,119.89 L154.05,120.50 L153.62,121.26 L153.19,121.98 L152.76,122.66 L152.34,123.31 L151.91,123.95 L151.48,124.60 L151.05,125.25 L150.62,125.91 L150.19,126.56 L149.76,127.21 L149.34,127.85 L148.91,128.50 L148.48,129.14 L148.05,129.80 L147.62,130.47 L147.19,131.17 L146.76,131.86 L146.32,132.56 L145.89,133.25 L145.46,133.93 L145.03,134.58 L144.60,135.20 L144.10,135.88 L143.60,136.54 L143.10,137.17 L142.60,137.79 L142.10,138.40 L141.60,139.00 L141.09,139.60 L140.59,140.19 L140.08,140.77 L139.57,141.34 L139.06,141.91 L138.56,142.47 L138.05,143.05 L137.55,143.63 L137.05,144.21 L136.55,144.79 L136.05,145.37 L135.55,145.95 L135.05,146.51 L134.55,147.05 L134.05,147.58 L133.55,148.09 L133.05,148.59 L132.55,149.08 L132.05,149.57 L131.55,150.06 L131.05,150.55 L130.55,151.05 L129.99,151.61 L129.44,152.18 L128.88,152.74 L128.32,153.31 L127.77,153.87 L127.21,154.43 L126.66,154.97 L126.10,155.50 L125.52,156.03 L124.94,156.54 L124.36,157.04 L123.79,157.53 L123.21,158.03 L122.63,158.53 L122.05,159.05 L121.48,159.58 L120.91,160.13 L120.34,160.69 L119.76,161.24 L119.19,161.79 L118.62,162.33 L118.05,162.85 L117.49,163.34 L116.92,163.82 L116.36,164.29 L115.80,164.75 L115.24,165.20 L114.67,165.65 L114.11,166.10 L113.55,166.55 L112.99,166.99 L112.42,167.43 L111.86,167.86 L111.30,168.29 L110.74,168.72 L110.17,169.16 L109.61,169.60 L109.05,170.05 L108.48,170.52 L107.91,170.99 L107.34,171.48 L106.78,171.97 L106.21,172.46 L105.64,172.95 L105.07,173.43 L104.50,173.90 L103.94,174.36 L103.38,174.82 L102.81,175.27 L102.25,175.72 L101.69,176.16 L101.12,176.61 L100.56,177.06 L100.00,177.50 L99.38,177.99 L98.77,178.47 L98.15,178.96 L97.53,179.44 L96.92,179.92 L96.30,180.40 L95.71,180.86 L95.12,181.31 L94.53,181.76 L93.94,182.21 L93.35,182.66 L92.75,183.11 L92.16,183.56 L91.57,184.01 L90.98,184.47 L90.39,184.93 L89.80,185.40 L89.24,185.85 L88.68,186.30 L88.12,186.76 L87.56,187.22 L87.00,187.69 L86.44,188.15 L85.88,188.62 L85.32,189.08 L84.76,189.54 L84.20,190.00 L83.55,190.53 L82.90,191.05 L82.25,191.58 L81.60,192.10 L81.03,192.56 L80.46,193.02 L79.89,193.48 L79.31,193.94 L78.74,194.40 L78.17,194.85 L77.60,195.30 L77.03,195.74 L76.46,196.17 L75.89,196.60 L75.31,197.03 L74.74,197.45 L74.17,197.87 L73.60,198.30 L72.95,198.78 L72.30,199.25 L71.65,199.73 L71.00,200.20 L70.35,200.69 L69.70,201.18 L69.05,201.70 L68.48,202.17 L67.91,202.66 L67.34,203.16 L66.76,203.67 L66.19,204.19 L65.62,204.72 L65.05,205.25 L64.55,205.72 L64.05,206.21 L63.55,206.70 L63.05,207.20 L62.55,207.70 L62.05,208.22 L61.55,208.73 L61.05,209.25 L60.55,209.78 L60.05,210.32 L59.55,210.87 L59.05,211.42 L58.55,211.97 L58.05,212.52 L57.55,213.05 L57.05,213.56 L56.55,214.06 L56.05,214.56 L55.55,215.05 L55.05,215.55 L54.55,216.06 L54.05,216.60 L53.55,217.15 L53.05,217.69 L52.55,218.26 L52.05,218.85 L51.55,219.49 L51.05,220.20 L50.67,220.79 L50.30,221.44 L49.92,222.14 L49.55,222.88 L49.17,223.65 L48.80,224.44 L48.42,225.25 L48.05,226.05 L47.73,226.74 L47.41,227.45 L47.09,228.18 L46.77,228.92 L46.46,229.68 L46.14,230.46 L45.82,231.25 L45.50,232.05 L45.21,232.80 L44.92,233.58 L44.64,234.38 L44.35,235.20 L44.06,236.02 L43.78,236.83 L43.49,237.63 L43.20,238.40 L42.92,239.14 L42.63,239.87 L42.35,240.59 L42.07,241.30 L41.79,242.00"/>
<path d="M170.15,34.50 L170.19,34.73 L170.22,35.37 L170.25,36.34 L170.29,37.54 L170.32,38.89 L170.36,40.32 L170.40,41.73 L170.43,43.03 L170.47,44.15 L170.50,45.00 L170.57,46.32 L170.64,47.53 L170.71,48.65 L170.78,49.68 L170.85,50.64 L170.92,51.53 L170.99,52.35 L171.06,53.13 L171.13,53.86 L171.20,54.55 L171.33,55.74 L171.47,56.75 L171.60,57.67 L171.73,58.56 L171.87,59.48 L172.00,60.50 L172.11,61.43 L172.22,62.41 L172.33,63.42 L172.44,64.45 L172.55,65.50 L172.64,66.40 L172.73,67.34 L172.82,68.30 L172.92,69.24 L173.01,70.15 L173.10,71.00 L173.22,72.09 L173.35,73.14 L173.47,74.15 L173.60,75.10 L173.72,76.01 L173.85,76.85 L174.02,77.89 L174.18,78.87 L174.35,79.80 L174.52,80.67 L174.68,81.50 L174.85,82.30 L175.08,83.35 L175.31,84.35 L175.54,85.29 L175.77,86.18 L176.00,87.00 L176.29,87.96 L176.57,88.87 L176.86,89.73 L177.14,90.55 L177.43,91.34 L177.71,92.08 L178.00,92.80 L178.36,93.66 L178.71,94.49 L179.07,95.28 L179.43,96.03 L179.79,96.74 L180.14,97.42 L180.50,98.05 L180.93,98.76 L181.35,99.43 L181.78,100.08 L182.20,100.69 L182.62,101.28 L183.05,101.83 L183.47,102.35 L183.90,102.85 L184.47,103.48 L185.04,104.07 L185.61,104.62 L186.19,105.15 L186.76,105.65 L187.33,106.14 L187.90,106.60 L188.57,107.13 L189.24,107.64 L189.91,108.14 L190.59,108.61 L191.26,109.05 L191.93,109.47 L192.60,109.85 L193.30,110.22 L194.00,110.58 L194.70,110.91 L195.40,111.23 L196.10,111.53 L196.80,111.80 L197.50,112.05 L198.29,112.32 L199.07,112.57 L199.86,112.82 L200.64,113.05 L201.43,113.25 L202.21,113.42 L203.00,113.55 L203.93,113.68 L204.87,113.81 L205.80,113.93 L206.73,114.02 L207.67,114.08 L208.60,114.10 L209.70,114.10 L210.80,114.10 L211.90,114.10 L213.00,114.10 L214.10,114.10 L215.02,114.08 L215.93,114.02 L216.85,113.93 L217.77,113.83 L218.68,113.71 L219.60,113.60 L220.58,113.47 L221.57,113.32 L222.55,113.15 L223.53,112.96 L224.52,112.76 L225.50,112.55 L226.29,112.37 L227.07,112.17 L227.86,111.96 L228.64,111.74 L229.43,111.51 L230.21,111.28 L231.00,111.05 L231.83,110.80 L232.67,110.55 L233.50,110.29 L234.33,110.03 L235.17,109.76 L236.00,109.50 L236.80,109.25 L237.60,108.99 L238.40,108.74 L239.20,108.48 L240.00,108.23 L240.80,107.96 L241.60,107.70 L242.39,107.43 L243.17,107.14 L243.96,106.85 L244.74,106.56 L245.53,106.29 L246.31,106.03 L247.10,105.80 L247.92,105.58 L248.73,105.38 L249.55,105.19 L250.37,105.01 L251.18,104.85 L252.00,104.70 L252.90,104.53 L253.80,104.36 L254.70,104.19 L255.60,104.04 L256.50,103.91 L257.40,103.83 L258.30,103.80 L259.17,103.84 L260.03,103.95 L260.90,104.10 L261.77,104.29 L262.63,104.50 L263.50,104.70 L264.30,104.89 L265.10,105.12 L265.90,105.36 L266.70,105.63 L267.50,105.91 L268.30,106.20 L269.10,106.50 L269.81,106.78 L270.53,107.09 L271.24,107.41 L271.96,107.75 L272.67,108.10 L273.39,108.45 L274.10,108.80 L274.84,109.17 L275.58,109.54 L276.31,109.92 L277.05,110.30 L277.79,110.69 L278.52,111.09 L279.26,111.49 L280.00,111.90 L280.64,112.26 L281.29,112.62 L281.93,112.99 L282.57,113.37 L283.21,113.75 L283.86,114.13 L284.50,114.51 L285.14,114.90 L285.79,115.28 L286.43,115.67 L287.07,116.05 L287.71,116.44 L288.36,116.82 L289.00,117.20 L289.64,117.58 L290.28,117.96 L290.92,118.35 L291.56,118.74 L292.20,119.14 L292.84,119.53 L293.48,119.92 L294.12,120.31 L294.76,120.70 L295.40,121.07 L296.04,121.45 L296.68,121.81 L297.32,122.17 L297.96,122.52 L298.60,122.85 L299.30,123.20 L300.00,123.55 L300.70,123.89 L301.40,124.22 L302.10,124.55 L302.80,124.87 L303.50,125.18 L304.20,125.49 L304.90,125.80 L305.60,126.10 L306.30,126.40 L307.00,126.70 L307.70,127.00 L308.40,127.30 L309.10,127.60 L309.83,127.91 L310.55,128.21 L311.28,128.52 L312.01,128.81 L312.73,129.11 L313.46,129.41 L314.19,129.70 L314.91,129.99 L315.64,130.28 L316.37,130.57 L317.09,130.85 L317.82,131.14 L318.55,131.43 L319.27,131.71 L320.00,132.00 L320.77,132.30 L321.54,132.61 L322.31,132.92 L323.08,133.23 L323.85,133.54 L324.62,133.85 L325.38,134.16 L326.15,134.46 L326.92,134.75 L327.69,135.04 L328.46,135.32 L329.23,135.59 L330.00,135.85 L330.83,136.12 L331.67,136.39 L332.50,136.65 L333.33,136.90 L334.17,137.14 L335.00,137.39 L335.83,137.62 L336.67,137.86 L337.50,138.08 L338.33,138.31 L339.17,138.53 L340.00,138.75 L340.86,138.97 L341.71,139.18 L342.57,139.39 L343.43,139.59 L344.29,139.80 L345.14,140.00 L346.00,140.20 L346.92,140.42 L347.83,140.63 L348.75,140.85 L349.67,141.06 L350.58,141.28 L351.50,141.50 L352.30,141.70 L353.10,141.90 L353.90,142.10 L354.70,142.30 L355.50,142.50 L356.30,142.70 L357.10,142.90 L357.93,143.11 L358.77,143.32 L359.60,143.52 L360.43,143.73 L361.27,143.92 L362.10,144.10 L363.01,144.29 L363.92,144.47 L364.82,144.65 L365.73,144.83 L366.64,145.01 L367.55,145.18 L368.45,145.34 L369.36,145.50 L370.27,145.65 L371.18,145.80 L372.08,145.94 L372.99,146.07 L373.90,146.20"/>
</g>
</g>
<g>
<text x="75.47" y="142.80">2</text>
<text x="120.61" y="142.80">4</text>
<text x="165.75" y="142.80">6</text>
<text x="210.89" y="142.80">8</text>
<path transform="translate(251.17,142.80) scale(0.008545,-0.008545)" d="M515 0V1237L197 1010V1180L530 1409H696V0Z"/>
<text x="260.90" y="142.80">0</text>
<path transform="translate(296.31,142.80) scale(0.008545,-0.008545)" d="M515 0V1237L197 1010V1180L530 1409H696V0Z"/>
<text x="306.04" y="142.80">2</text>
<path transform="translate(341.45,142.80) scale(0.008545,-0.008545)" d="M515 0V1237L197 1010V1180L530 1409H696V0Z"/>
<text x="351.18" y="142.80">4</text>
<text x="21.57" y="70.60">5</text>
<text x="21.57" y="128.75">0</text>
<text x="21.57" y="186.90">5</text>
<text x="19.97" y="186.90" text-anchor="end">−</text>
<path transform="translate(11.83,245.05) scale(0.008545,-0.008545)" d="M515 0V1237L197 1010V1180L530 1409H696V0Z"/>
<text x="21.57" y="245.05">0</text>
<text x="10.23" y="245.05" text-anchor="end">−</text>
<text x="0.50" y="18.60">log</text>
<text transform="translate(26.90,18.60) scale(1.1,1)" font-style="italic" font-size="17.6">P</text>
<text x="43.00" y="19.20" font-size="19.2">(</text>
<text transform="translate(49.30,18.60) scale(1.12,1)" font-style="italic" font-size="18">ω</text>
<text x="63.60" y="19.20" font-size="19.2">)</text>
<text x="345.80" y="41.90" font-size="19">(</text>
<text x="351.80" y="41.10" font-style="italic" font-size="17">a</text>
<text x="361.60" y="41.90" font-size="19">)</text>
<text transform="translate(383.60,128.80) scale(1.09,1)" font-style="italic" font-size="17.6">ω</text>
<text transform="translate(397.90,128.80) scale(1.25,1)" font-style="italic" font-size="17.6">τ</text>
</g>
</svg>
</body></html>
